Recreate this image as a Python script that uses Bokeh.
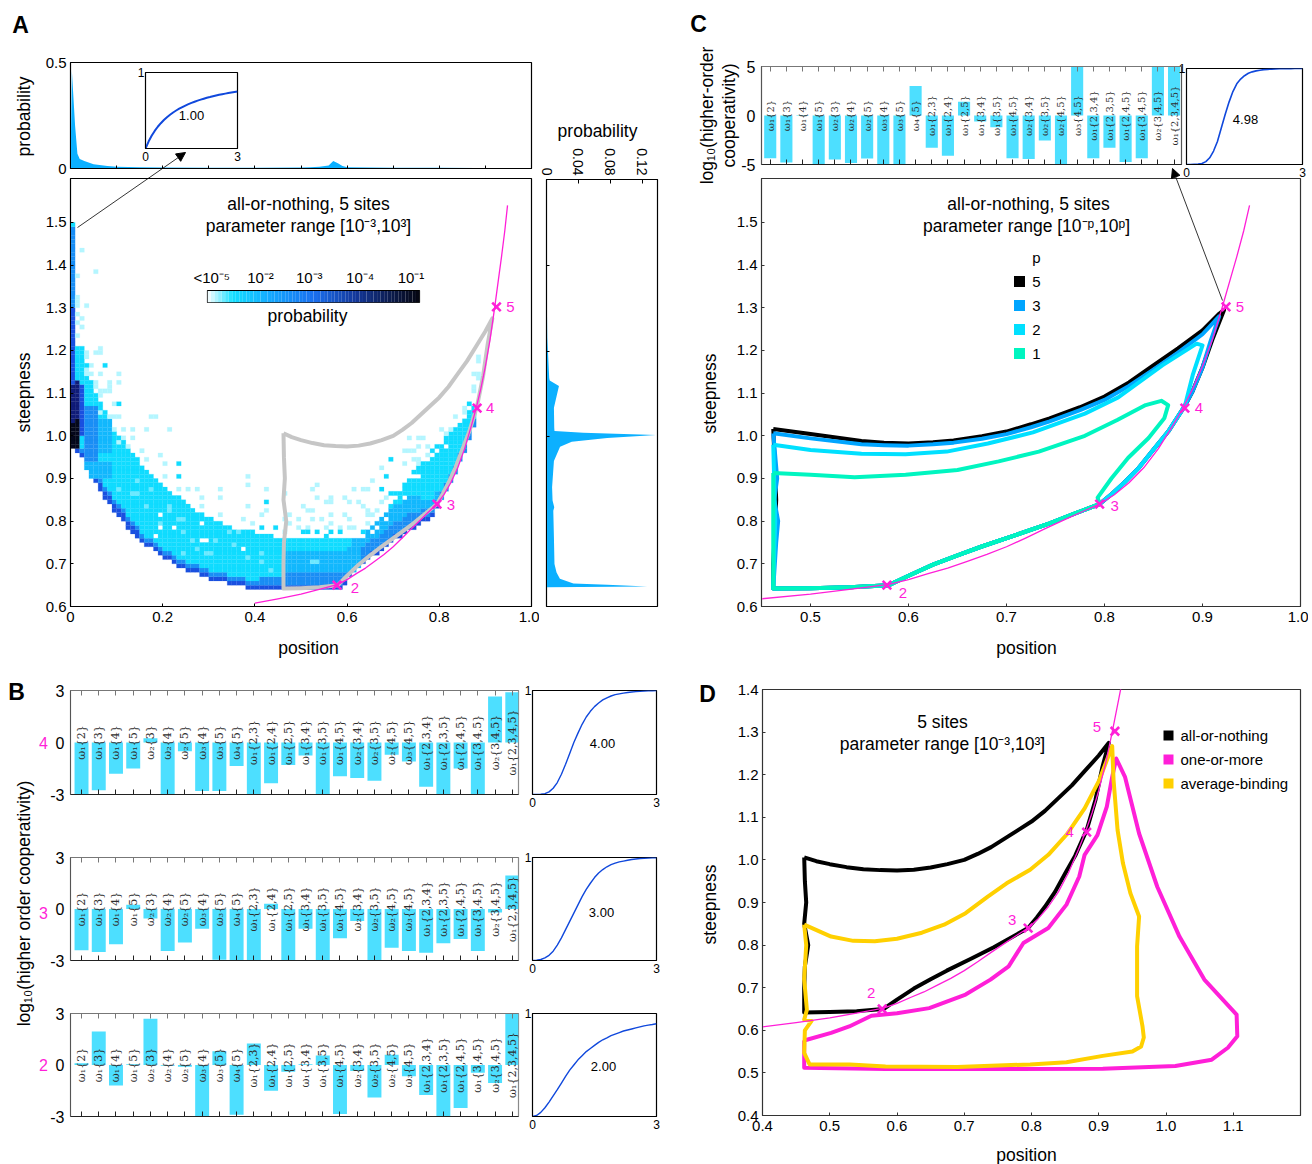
import numpy as np
from bokeh.plotting import figure
from bokeh.models import (GridBox, Column, Range1d, LinearAxis, FixedTicker, Label, Arrow, NormalHead,
                          ColumnDataSource)
from bokeh.core.properties import value
from bokeh.embed import file_html
from bokeh.resources import INLINE

# ---------- shared data ----------
bar_labels = ["ω₁{2}", "ω₁{3}", "ω₁{4}", "ω₁{5}", "ω₂{3}", "ω₂{4}", "ω₂{5}", "ω₃{4}", "ω₃{5}", "ω₄{5}",
              "ω₁{2,3}", "ω₁{2,4}", "ω₁{2,5}", "ω₁{3,4}", "ω₁{3,5}", "ω₁{4,5}", "ω₂{3,4}", "ω₂{3,5}", "ω₂{4,5}", "ω₃{4,5}",
              "ω₁{2,3,4}", "ω₁{2,3,5}", "ω₁{2,4,5}", "ω₁{3,4,5}", "ω₂{3,4,5}", "ω₁{2,3,4,5}"]
bars_b4 = [-3, -2.75, -1.8, -1.5, 0.25, -3, -0.5, -2.8, -2.8, -1.35, -3, -2.35, -1.3, -0.75, -3, -1.95, -2.05, -2.2,
           -0.7, -1.1, -2.55, -3, -1.5, -3, 2.65, 2.9]
bars_b3 = [-2.4, -2.5, -2.05, 0.25, -0.55, -2.45, -1.95, -1.15, -2.95, -3, -3, 0.3, -3, -1.15, -3, -1.7, -0.7, -3,
           -2.25, -2.45, -2.55, -2.0, -1.75, -2.45, -0.2, 1.95]
bars_b2 = [0.1, 1.95, -1.2, 0.05, 2.7, -0.05, -0.1, -3, 0.8, -2.9, 1.25, -1.5, -0.4, 0.05, 0.55, -2.85, -0.35, -1.9,
           0.6, -0.65, -1.75, -3, -2.5, -0.45, -1.05, 3]
bars_c = [-4.35, -4.8, -0.05, -4.95, -4.5, -4.85, -4.4, -5, -5, 3.0, -3.3, -4.1, 1.4, -0.6, -1.2, -4.35, -4.45, -2.55,
          -5, 5, -4.35, -3.3, -4.75, -4.35, 5, 5]

resp_x = [0, .1, .2, .3, .4, .5, .6, .7, .8, .9, 1, 1.1, 1.2, 1.3, 1.4, 1.5, 1.6, 1.7, 1.8, 1.9, 2, 2.1, 2.2, 2.3, 2.4, 2.5, 2.6, 2.7, 2.8, 2.9, 3]
resp_100 = [0,.091,.167,.231,.286,.333,.375,.412,.444,.474,.5,.524,.545,.565,.583,.6,.615,.63,.643,.655,.667,.677,.688,.697,.706,.714,.722,.73,.737,.744,.75]
resp_498 = [0,0,.002,.004,.01,.03,.07,.14,.24,.38,.52,.65,.76,.84,.89,.925,.95,.965,.975,.982,.988,.991,.994,.996,.997,.998,.999,.999,1,1,1]
resp_400 = [0,0,.002,.008,.025,.06,.115,.195,.29,.395,.5,.59,.675,.745,.8,.845,.88,.91,.93,.947,.96,.968,.975,.981,.985,.989,.992,.995,.997,.998,.999]
resp_300 = [0,.002,.01,.025,.05,.09,.15,.22,.3,.38,.46,.54,.62,.69,.75,.805,.85,.883,.91,.93,.945,.957,.965,.973,.98,.985,.99,.993,.995,.997,.998]
resp_200 = [0,.01,.04,.085,.14,.2,.26,.325,.39,.45,.5,.55,.59,.63,.66,.69,.72,.745,.764,.785,.8,.815,.83,.84,.85,.86,.87,.88,.887,.893,.9]

hill_pos = [.578, .795, .882, .924]
hill_steep = [.65, .84, 1.065, 1.302]
hill_names = ["2", "3", "4", "5"]
limit_x = [.4,.45,.5,.55,.58,.6,.62,.64,.66,.68,.7,.72,.74,.76,.78,.795,.81,.825,.84,.855,.87,.88,.89,.9,.91,.92,.93,.935,.942,.948]
limit_y = [.608,.618,.629,.643,.652,.663,.677,.69,.706,.722,.74,.761,.783,.804,.825,.84,.862,.89,.925,.97,1.025,1.065,1.11,1.163,1.225,1.3,1.38,1.42,1.48,1.54]

# panel A histograms
top_x = [0, .003, .01, .015, .02, .03, .05, .08, .1, .15, .2, .3, .4, .5, .52, .54, .56, .57, .58, .59, .6, .65, .7, .8, .88, .95, 1]
top_p = [0, .46, .2, .07, .045, .035, .02, .012, .008, .006, .005, .004, .004, .005, .006, .008, .014, .035, .025, .012, .006, .005, .004, .003, .002, .001, 0]
side_y = [1.5, 1.34, 1.231, 1.137, 1.131, 1.118, 1.067, 1.02, 1.0125, 1.008, 1.003, .996, .987, .975, .942, .88, .849, .833, .825, .762, .70, .68, .665, .654, .651, .647, .645]
side_p = [0, .0003, .001, .0034, .004, .0156, .0093, .0097, .01, .046, .137, .076, .0316, .017, .0093, .007, .0076, .0097, .0085, .0093, .01, .0126, .0168, .0337, .076, .126, 0]

# panel A heat map: columns are 0.01 wide, rows 0.01 tall (indices = value*100)
cell_low = [97,96,95,92,90,89,87,85,84,82,81,80,78,77,76,75,74,74,73,72,71,71,70,69,69,68,68,68,67,67,66,66,66,66,65,65,65,65,64,
            64,64,64,64,64,64,64,64,64,64,64,64,64,64,64,64,64,64,64,64,
            65,67,68,69,70,71,72,72,73,74,75,76,76,77,78,78,79,80,80,81,83,85,87,89,91,94,96,99,102,105,108,113,116]
cell_high = [149,120,120,113,112,109,107,105,103,101,99,98,96,95,94,92,91,90,89,88,87,86,85,85,84,83,82,81,81,80,80,79,79,78,78,77,77,77,77,77,
             76,76,76,76,75,75,75,75,75,75,75,75,75,75,75,75,75,75,75,75,75,75,75,
             76,77,78,79,80,81,83,85,87,88,90,91,93,94,95,96,97,98,99,100,102,103,103,105,106,0,0,0,0]
dark_band = [1,1,1] + [2]*12 + [1]*65 + [0]*12
mid_band = [1]*41 + [2]*5 + [4]*13 + [2,2,3,3,3,3,3,3,3,3,3,3,3,3,3,3,2,2,2,1,1] + [2]*12
deep_band = [0]*59 + [4]*17 + [2]*4 + [0]*12
segments = [(3,5,94,106,4),(6,8,96,103,3),(3,8,90,93,3),(46,62,68,72,3),
            (0,0,97,102,7),(0,0,103,111,6),(0,0,112,129,5),(0,0,130,148,4),(0,0,149,149,2),
            (1,1,97,103,7),(1,1,104,112,6),(2,2,100,111,5)]
holes = [(19,81),(22,78),(19,78),(28,79),(18,76),(28,75),(29,75),(37,73),
         (70,85),(71,87),(73,90),(74,90),(76,94),(77,94),(78,95),(79,96),(80,98),(81,97),(83,102),(84,103),(68,80),(66,78),(63,76),(65,77),(72,85),(75,90)]
pale_inside = [(14,89),(10,87),(13,86),(14,86),(17,87),(16,83),(21,83),(21,82),(19,79),(23,80),(24,80),(24,77),(26,75),(31,75),
               (27,73),(24,72),(29,72),(30,72),(35,74),(38,71),(41,72),(41,70),(43,68),(34,77),(36,77),(53,70),(52,70)]
sparse_pale = [(9,101),(11,101),(13,101),(16,101),(21,101),(11,99),(13,99),(10,98),(12,97),(15,96),(19,95),(16,94),(20,93),(20,90),
               (38,90),(38,88),(42,87),(23,87),(25,87),(27,87),(32,87),(28,85),(32,85),(46,86),(28,83),(38,83),(42,82),(41,81),(32,81),
               (46,80),(37,80),(39,79),(46,77),(2,143),(5,138),(1,137),(1,132),(1,131),(3,130),(1,130),(1,128),(2,127),(1,126),(2,125),
               (1,123),(6,120),(5,119),(6,119),(3,119),(3,118),(10,114),(6,114),(8,112),(10,112),(8,111),(7,110),(8,110),(9,107),(6,105),
               (9,104),(10,104),(18,104),(8,104),(17,104),(3,115),(3,114),(4,114),(4,116),(5,112),(5,111),(6,110),(6,109),
               (53,88),(52,87),(53,85),(61,87),(63,87),(64,87),(65,89),(67,92),(72,96),(73,96),(74,96),(73,99),(75,99),(76,99),(75,97),(77,97),
               (74,94),(75,94),(75,93),(72,93),(77,95),(80,101),(81,100),(82,101),(83,104),(85,106),(85,105),(50,83),(51,82),(52,82),(55,84),
               (56,84),(56,85),(59,85),(60,84),(62,84),(63,83),(64,82),(59,81),(60,80),(56,81),(54,80),(52,80),(49,80),(47,81),(47,79),
               (49,78),(51,78),(55,78),(56,79),(58,78),(60,78),(61,78),(64,79),(64,81),(65,81),(66,82),(67,84),(68,85),
               (87,110),(87,111),(87,114),(88,113),(88,114),(88,117),(88,118)]
sparse_bright = [(23,93),(23,90),(42,84),(41,78),(44,78),(7,116),(10,107),(7,105),(68,90),(67,87),(69,94),(86,107),(50,77),(51,77),(53,77),
                 (56,77),(55,76),(58,77),(63,77),(69,86),(70,86),(3,116)]

# lower right edge shared by the all-or-nothing regions (from position 2 up through 3)
lower_x = [.915,.905,.895,.882,.865,.85,.835,.82,.808,.795,.77,.744,.71,.674,.65,.625,.6,.58,.54,.5,.462]
lower_y = [1.275,1.215,1.14,1.07,1.01,.968,.925,.89,.865,.84,.818,.795,.768,.74,.72,.698,.672,.65,.645,.643,.642]
# regions of attainable position/steepness
nothing_x = [.462,.48,.5,.525,.55,.575,.6,.625,.65,.675,.7,.72,.74,.76,.78,.8,.82,.84,.86,.88,.9] + lower_x + [.462,.463,.468,.462,.465,.463,.462]
nothing_y = [1.006,.997,.99,.983,.978,.976,.975,.977,.982,.99,1.0,1.014,1.03,1.05,1.07,1.09,1.115,1.145,1.175,1.21,1.245] + lower_y + [.7,.75,.8,.85,.9,.95,1.006]
p5_x = [.462,.5,.552,.575,.6,.625,.646,.675,.7,.725,.744,.775,.8,.825,.848,.875,.9,.917,.922,.91,.9,.89] + lower_x[3:] + [.462,.465,.462]
p5_y = [1.016,1.004,.988,.984,.982,.985,.989,.999,1.01,1.027,1.041,1.067,1.092,1.125,1.162,1.205,1.247,1.286,1.295,1.225,1.16,1.105] + lower_y[3:] + [.7,.85,1.016]
p3_x = [.462,.5,.552,.575,.6,.625,.646,.675,.7,.725,.744,.775,.8,.825,.848,.875,.9,.917,.908,.9,.89] + lower_x[3:] + [.465,.467,.463,.466,.462]
p3_y = [1.006,.994,.98,.978,.977,.98,.984,.993,1.004,1.02,1.034,1.06,1.084,1.117,1.152,1.195,1.238,1.28,1.22,1.16,1.105] + lower_y[3:] + [.75,.8,.85,.9,1.006]
p2_x = [.462,.5,.552,.597,.639,.681,.727,.78,.814,.859,.894,.9,.89] + lower_x[3:] + [.464,.462]
p2_y = [.979,.967,.958,.957,.963,.982,1.008,1.052,1.09,1.165,1.216,1.212,1.142] + lower_y[3:] + [.8,.979]
p1_x = [.462,.5,.545,.597,.65,.692,.733,.78,.813,.842,.858,.865,.861,.845,.824,.807,.793] + lower_x[9:] + [.462,.462]
p1_y = [.913,.909,.903,.909,.92,.94,.963,1.0,1.037,1.072,1.082,1.072,1.041,.995,.948,.90,.855] + lower_y[9:] + [.8,.913]
more_x = [.462,.502,.529,.562,.6,.648,.702,.739,.766,.788,.825,.852,.871,.879,.898,.912,.92,.926,.939,.96,.987,1.02,1.057,1.105,1.106,1.092,1.068,1.014,.906,.745,.583,.462,.462]
more_y = [.576,.594,.609,.634,.64,.652,.684,.719,.75,.805,.84,.895,.961,1.012,1.058,1.125,1.195,1.238,1.195,1.062,.937,.82,.719,.637,.586,.559,.531,.516,.51,.509,.509,.512,.576]
avg_x = [.462,.502,.535,.567,.6,.637,.67,.702,.735,.763,.798,.825,.852,.879,.901,.92,.922,.928,.936,.947,.96,.957,.957,.965,.967,.963,.95,.906,.852,.798,.69,.583,.53,.47,.462,.463,.473,.462,.466,.462,.465,.462]
avg_y = [.848,.82,.81,.809,.815,.829,.848,.875,.914,.945,.977,1.012,1.059,1.121,1.188,1.267,1.188,1.07,.992,.922,.867,.797,.68,.61,.583,.562,.55,.54,.525,.52,.514,.515,.52,.52,.547,.6,.622,.625,.648,.72,.8,.848]

colorbar_ticks = [0.02, 0.25, 0.48, 0.72, 0.96]
colorbar_names = ["<10⁻⁵", "10⁻²", "10⁻³", "10⁻⁴", "10⁻¹"]

# ---------- helpers ----------
FONT = "Liberation Sans"
MAG = "#ff1fd8"
BLUE = "#1048dc"
BAR = "#4ddfff"
AREA = "#0cb0ff"
LEVELS = ["#b4f6ff", "#6ce9ff", "#10dcff", "#12b8fd", "#1a8ef5", "#1a50e0", "#101c78", "#05081c"]
LABEL = 17.5
figs = []


def panel(x0, y0, x1, y1, xr, yr, L=48, R=12, T=12, B=48, outline="black", bg="white"):
    f = figure(width=(x1 - x0) + L + R, height=(y1 - y0) + T + B,
               x_range=Range1d(*xr), y_range=Range1d(*yr), x_axis_type=None, y_axis_type=None,
               tools="", toolbar_location=None, output_backend="svg",
               min_border_left=L, min_border_right=R, min_border_top=T, min_border_bottom=B,
               background_fill_color=bg, border_fill_color=None,
               outline_line_color=outline, outline_line_width=1.2, align="start")
    f.xgrid.visible = False
    f.ygrid.visible = False
    figs.append((f, (y0 - T, 0, 0, x0 - L)))
    return f


def axis(f, side, ticks, labels=None, size=15, tick_in=4, std=4, color="black", orient=None):
    a = LinearAxis(ticker=FixedTicker(ticks=ticks), major_tick_in=tick_in, major_tick_out=0, minor_tick_line_color=None,
                   major_label_text_font=FONT, major_label_text_font_size=f"{size}px", major_label_standoff=std,
                   axis_line_color=color, major_tick_line_color=color, major_label_text_color="black")
    if labels is None:
        a.major_label_overrides = {float(t): "" for t in ticks}
        a.major_label_standoff = 0
    else:
        a.major_label_overrides = {float(t): s for t, s in zip(ticks, labels)}
    if orient is not None:
        a.major_label_orientation = orient
    f.add_layout(a, side)
    return a


def response(x0, y0, x1, y1, ys, width=1.4, size=12):
    f = panel(x0, y0, x1, y1, (0, 3), (0, 1), L=14, R=8, T=8, B=18)
    f.line(resp_x, ys, line_color=BLUE, line_width=width, line_join="round")
    axis(f, "below", [0, 3], ["0", "3"], size=size, tick_in=0, std=3)
    axis(f, "left", [1], ["1"], size=size, tick_in=0, std=1)
    return f


def bars(x0, y0, x1, y1, vals, lim, start, stop, width, fsize=11, outline="#8a8a8a"):
    f = panel(x0, y0, x1, y1, (start, stop), (-lim, lim), outline=outline, L=30, R=6, T=8, B=8)
    pos = list(range(1, len(vals) + 1))
    f.vbar(x=pos, top=vals, bottom=0, width=width, fill_color=BAR, line_color=None)
    f.text(x=pos, y=[0] * len(pos), text=bar_labels, angle=np.pi / 2, text_align="center", text_baseline="middle",
           text_font=value("DejaVu Serif"), text_font_size=f"{fsize}px", text_color="#2e2e2e")
    axis(f, "left", [-lim, 0, lim], [str(-lim), "0", str(lim)], size=16, tick_in=0, std=6, color="#555555")
    axis(f, "below", pos, None, tick_in=5, color="#222222")
    axis(f, "above", pos, None, tick_in=5, color="#777777")
    return f


def crosses(f, side_offsets, size=12):
    f.line(limit_x, limit_y, line_color=MAG, line_width=1.3, line_join="round")
    f.scatter(hill_pos, hill_steep, marker="x", size=size, line_color=MAG, line_width=2.6)
    for px, py, name, (dx, dy) in zip(hill_pos, hill_steep, hill_names, side_offsets):
        f.text(x=[px], y=[py], text=[name], x_offset=dx, y_offset=dy, text_color=MAG, text_align="center",
               text_baseline="middle", text_font=value(FONT), text_font_size="15px")


# ---------- Panel A ----------
pa_top = panel(70, 62, 531, 168, (0, 1), (0, .5), L=70, R=8, T=8, B=14)
pa_top.varea(top_x, [0] * len(top_x), top_p, fill_color=AREA)
axis(pa_top, "below", [i / 10 for i in range(11)], None, tick_in=3)
axis(pa_top, "left", [0, .5], ["0", "0.5"], tick_in=0, std=4)

pa_main = panel(70, 178, 531, 606, (0, 1), (.6, 1.603), L=70, R=8, T=8, B=36)
grid = {}
for i, (lo_j, hi_j, d, m, g) in enumerate(zip(cell_low, cell_high, dark_band, mid_band, deep_band)):
    for j in range(lo_j, hi_j + 1):
        grid[(i, j)] = 2
        if j - lo_j < d:
            grid[(i, j)] = 5
        elif j - lo_j < d + m:
            grid[(i, j)] = 4
        elif j - lo_j < d + m + g:
            grid[(i, j)] = 3
for a, b, c, e, lev in segments:
    for i in range(a, b + 1):
        for j in range(c, e + 1):
            if (i, j) in grid:
                grid[(i, j)] = lev
for cell in pale_inside:
    grid[cell] = 1
for cell in holes:
    grid.pop(cell, None)
for cell in sparse_pale:
    grid[cell] = 0
for cell in sparse_bright:
    grid[cell] = 2
keys = list(grid)
heat = ColumnDataSource(dict(left=[k[0] / 100 for k in keys], right=[(k[0] + 1) / 100 for k in keys],
                             bottom=[k[1] / 100 for k in keys], top=[(k[1] + 1) / 100 for k in keys],
                             color=[LEVELS[grid[k]] for k in keys]))
pa_main.quad(left="left", right="right", bottom="bottom", top="top", fill_color="color", line_color="color",
             line_width=.2, source=heat)
pa_main.line(nothing_x, nothing_y, line_color="#c6c6c6", line_width=4, line_join="round")
crosses(pa_main, [(18, 3), (14, 1), (13, 0), (14, 0)])
axis(pa_main, "below", [0, .2, .4, .6, .8, 1], ["0", "0.2", "0.4", "0.6", "0.8", "1.0"], tick_in=3, std=5)
axis(pa_main, "left", [.6 + i / 10 for i in range(10)], [f"{.6 + i / 10:.1f}" for i in range(10)], tick_in=3, std=4)

pa_side = panel(546, 179, 657, 606, (0, .139), (.6, 1.603), L=6, R=10, T=40, B=8)
pa_side.harea(side_p, [0] * len(side_p), side_y, fill_color=AREA)
axis(pa_side, "above", [0, .04, .08, .12], ["0", "0.04", "0.08", "0.12"], size=14, tick_in=4, std=4, orient=-np.pi / 2)
axis(pa_side, "left", [1.0, 1.2, 1.4], None, tick_in=3)

pa_in = response(145, 72, 237, 148, resp_100, width=2)

# colour bar
bar_f = panel(207, 290, 419, 302, (0, 1), (0, 1), L=30, R=30, T=32, B=6, outline="#222222", bg=None)
stops = [(0, "#ffffff"), (.12, "#14e0ff"), (.3, "#14a8ff"), (.5, "#1a70f0"), (.7, "#14389a"), (1, "#050510")]
def hexrgb(c):
    return [int(c[i:i + 2], 16) for i in (1, 3, 5)]
edges = np.linspace(0, 1, 61)
cols = []
for t in (edges[:-1] + edges[1:]) / 2:
    rgb = [np.interp(t, [s[0] for s in stops], [hexrgb(s[1])[k] for s in stops]) for k in range(3)]
    cols.append("#%02x%02x%02x" % tuple(int(v) for v in rgb))
bar_f.quad(left=edges[:-1], right=edges[1:], bottom=0, top=1, fill_color=cols, line_color=None)
axis(bar_f, "above", colorbar_ticks, colorbar_names, size=15, tick_in=0, std=5)

# ---------- Panel B ----------
for (y0, y1, vals, resp) in [(690, 794, bars_b4, resp_400), (857, 960, bars_b3, resp_300), (1013, 1116, bars_b2, resp_200)]:
    bars(70, y0, 518, y1, vals, 3, .36, 26.36, .81)
    response(532, y0, 656, y1, resp)

# ---------- Panel C ----------
bars(761, 66, 1181, 164, bars_c, 5, .46, 26.46, .75, fsize=10, outline="#555555")
response(1186, 68, 1302, 164, resp_498, width=1.6)
pc = panel(761, 178, 1300, 606, (.45, 1.0), (.6, 1.603), L=70, R=8, T=8, B=36, outline="#333333")
for xs, ys, c in [(p5_x, p5_y, "black"), (p3_x, p3_y, "#00a5ff"), (p2_x, p2_y, "#00e0ff"), (p1_x, p1_y, "#00f5c0")]:
    pc.line(xs, ys, line_color=c, line_width=4, line_join="round")
crosses(pc, [(16, 8), (15, 2), (14, 0), (14, 0)])
axis(pc, "below", [.5, .6, .7, .8, .9, 1], ["0.5", "0.6", "0.7", "0.8", "0.9", "1.0"], tick_in=3, std=5, color="#333333")
axis(pc, "left", [.6 + i / 10 for i in range(10)], [f"{.6 + i / 10:.1f}" for i in range(10)], tick_in=3, std=4, color="#333333")

# ---------- Panel D ----------
pd = panel(762, 689, 1300, 1115, (.4, 1.2), (.4, 1.4), L=70, R=8, T=8, B=30, outline="#333333")
for xs, ys, c in [(nothing_x, nothing_y, "black"), (more_x, more_y, MAG), (avg_x, avg_y, "#ffd000")]:
    pd.line(xs, ys, line_color=c, line_width=4, line_join="round")
crosses(pd, [(-11, -16), (-16, -8), (-17, 0), (-18, -4)])
axis(pd, "below", [.4 + i / 10 for i in range(9)], [f"{.4 + i / 10:.1f}" for i in range(9)], tick_in=3, std=5, color="#333333")
axis(pd, "left", [.4 + i / 10 for i in range(11)], [f"{.4 + i / 10:.1f}" for i in range(11)], tick_in=3, std=4, color="#333333")

# ---------- page-level texts, legends and arrows ----------
ov = figure(width=1296, height=1156, x_range=Range1d(8, 1304), y_range=Range1d(1164, 8), x_axis_type=None, y_axis_type=None,
            tools="", toolbar_location=None, output_backend="svg", min_border=0,
            background_fill_color=None, border_fill_color=None, outline_line_color=None, align="start")
ov.xgrid.visible = False
ov.ygrid.visible = False
figs.append((ov, (8, 0, 0, 8)))


def put(x, y, text, size=15, color="black", align="center", angle=0, style="normal"):
    ov.add_layout(Label(x=x, y=y, text=text, text_font=FONT, text_font_size=f"{size}px", text_color=color, text_align=align,
                        text_baseline="middle", angle=angle, text_font_style=style))


UP = np.pi / 2
for x, y, t in [(20, 24, "A"), (16, 691, "B"), (698, 23, "C"), (707, 693, "D")]:
    put(x, y, t, size=23, style="bold")
put(308, 203, "all-or-nothing, 5 sites", LABEL)
put(308, 225, "parameter range [10⁻³,10³]", LABEL)
put(1028, 203, "all-or-nothing, 5 sites", LABEL)
put(1026, 225, "parameter range [10⁻ᵖ,10ᵖ]", LABEL)
put(942, 721, "5 sites", LABEL)
put(942, 743, "parameter range [10⁻³,10³]", LABEL)
put(23, 903, "log₁₀(higher order cooperativity)", LABEL, angle=UP)
put(706, 115, "log₁₀(higher-order", LABEL, angle=UP)
put(728, 115, "cooperativity)", LABEL, angle=UP)
put(23, 116, "probability", LABEL, angle=UP)
put(597, 130, "probability", LABEL)
put(307, 315, "probability", LABEL)
put(23, 392, "steepness", LABEL, angle=UP)
put(709, 393, "steepness", LABEL, angle=UP)
put(709, 904, "steepness", LABEL, angle=UP)
put(308, 647, "position", LABEL)
put(1026, 647, "position", LABEL)
put(1026, 1154, "position", LABEL)
for y, t in [(742, "4"), (912, "3"), (1064, "2")]:
    put(43, y, t, 16, color=MAG)
for x, y, t in [(191, 115, "1.00"), (602, 743, "4.00"), (601, 912, "3.00"), (603, 1066, "2.00"), (1245, 119, "4.98")]:
    put(x, y, t, 13)
put(1036, 257, "p", 15)
for y, t, c in [(281, "5", "black"), (305, "3", "#00a5ff"), (329, "2", "#00e0ff"), (353, "1", "#00f5c0")]:
    ov.rect(x=[1019], y=[y], width=11, height=11, fill_color=c, line_color=None)
    put(1036, y, t, 15)
for y, t, c in [(735, "all-or-nothing", "black"), (759, "one-or-more", MAG), (783, "average-binding", "#ffd000")]:
    ov.rect(x=[1168], y=[y], width=10, height=10, fill_color=c, line_color=None)
    put(1180, y, t, 15, align="left")
ov.add_layout(Arrow(x_start=77, y_start=227, x_end=185, y_end=152, line_width=.8, line_color="black",
                    end=NormalHead(size=9, fill_color="black", line_color="black")))
ov.add_layout(Arrow(x_start=1222, y_start=300, x_end=1172, y_end=168, line_width=.8, line_color="black",
                    end=NormalHead(size=9, fill_color="black", line_color="black")))

wrapped = [(Column(children=[f], margin=m, width=f.width, height=f.height, align="start"), 0, 0) for f, m in figs]
page = GridBox(children=wrapped, rows="1164px", cols="1304px", width=1304, height=1164)
open("out.html", "w").write(file_html(page, INLINE))
